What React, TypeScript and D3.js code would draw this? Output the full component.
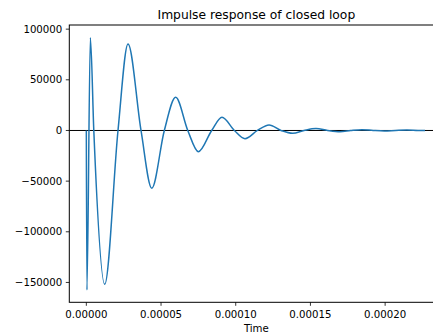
import * as d3 from "d3";

// readings (time in seconds, response amplitude)
const times = [
  0, 0.4e-6, 2.7e-6, 5.0e-6, 12.3e-6, 21.2e-6, 27.9e-6, 36.6e-6, 43.8e-6,
  52.2e-6, 59.8e-6, 67.9e-6, 75.0e-6, 83.9e-6, 90.8e-6, 99.1e-6, 106.2e-6,
  114.5e-6, 122.3e-6, 130.3e-6, 138.1e-6, 145.7e-6, 153.7e-6, 161.5e-6,
  169.8e-6, 177.0e-6, 184.5e-6, 192.0e-6, 199.5e-6, 207.0e-6, 214.5e-6,
  222.0e-6, 226.7e-6,
];
const values = [
  0, -157400, 91600, 0, -151800, 0, 85400, 0, -57000,
  0, 32800, 0, -20900, 0, 13000, 0, -8100,
  0, 5400, 0, -2800, 0, 1900, 0,
  -1200, 0, 800, 0, -500, 0, 400,
  0, -100,
];
const xTicks = [0, 0.00005, 0.0001, 0.00015, 0.0002];
const yTicks = [100000, 50000, 0, -50000, -100000, -150000];

const title = "Impulse response of closed loop";
const xLabel = "Time";

export default function App() {
  const width = 433;
  const height = 335;
  const plot = { left: 69.3, right: 443.4, top: 25, bottom: 302.3 };

  const x = d3.scaleLinear().domain([-11.4e-6, 239.0e-6]).range([plot.left, plot.right]);
  const y = d3.scaleLinear().domain([-169600, 104100]).range([plot.bottom, plot.top]);

  const pts = times.map((t, i) => [t, values[i]] as [number, number]);
  const line = d3
    .line<[number, number]>()
    .x(d => x(d[0]))
    .y(d => y(d[1]))
    .curve(d3.curveMonotoneX);

  const fmtY = (v: number) => (v < 0 ? "\u2212" + Math.abs(v) : String(v));
  const font = "DejaVu Sans, sans-serif";

  return (
    <svg
      width={width}
      height={height}
      style={{ position: "absolute", left: 0, top: 0, background: "#fff" }}
      fontFamily={font}
    >
      <defs>
        <clipPath id="plotArea">
          <rect x={plot.left} y={plot.top} width={plot.right - plot.left} height={plot.bottom - plot.top} />
        </clipPath>
      </defs>

      {/* zero reference line */}
      <line x1={plot.left} x2={plot.right} y1={y(0)} y2={y(0)} stroke="#000" strokeWidth={1} />

      {/* response */}
      <path
        d={line(pts) ?? ""}
        fill="none"
        stroke="#1f77b4"
        strokeWidth={1.5}
        strokeLinejoin="round"
        clipPath="url(#plotArea)"
      />

      {/* spines */}
      <rect
        x={plot.left}
        y={plot.top}
        width={plot.right - plot.left}
        height={plot.bottom - plot.top}
        fill="none"
        stroke="#000"
        strokeWidth={1}
      />

      {/* y axis */}
      <g fontSize={10.2} fill="#000">
        {yTicks.map(t => (
          <g key={t} transform={`translate(${plot.left},${y(t)})`}>
            <line x1={-3.5} x2={0} stroke="#000" strokeWidth={0.8} />
            <text x={-7} dy="0.36em" textAnchor="end">{fmtY(t)}</text>
          </g>
        ))}
      </g>

      {/* x axis */}
      <g fontSize={10.2} fill="#000">
        {xTicks.map(t => (
          <g key={t} transform={`translate(${x(t)},${plot.bottom})`}>
            <line y1={0} y2={3.5} stroke="#000" strokeWidth={0.8} />
            <text y={15.8} textAnchor="middle">{t.toFixed(5)}</text>
          </g>
        ))}
      </g>

      <text x={(plot.left + plot.right) / 2} y={331.5} textAnchor="middle" fontSize={10.2}>
        {xLabel}
      </text>
      <text x={(plot.left + plot.right) / 2} y={19} textAnchor="middle" fontSize={12.3}>
        {title}
      </text>
    </svg>
  );
}
